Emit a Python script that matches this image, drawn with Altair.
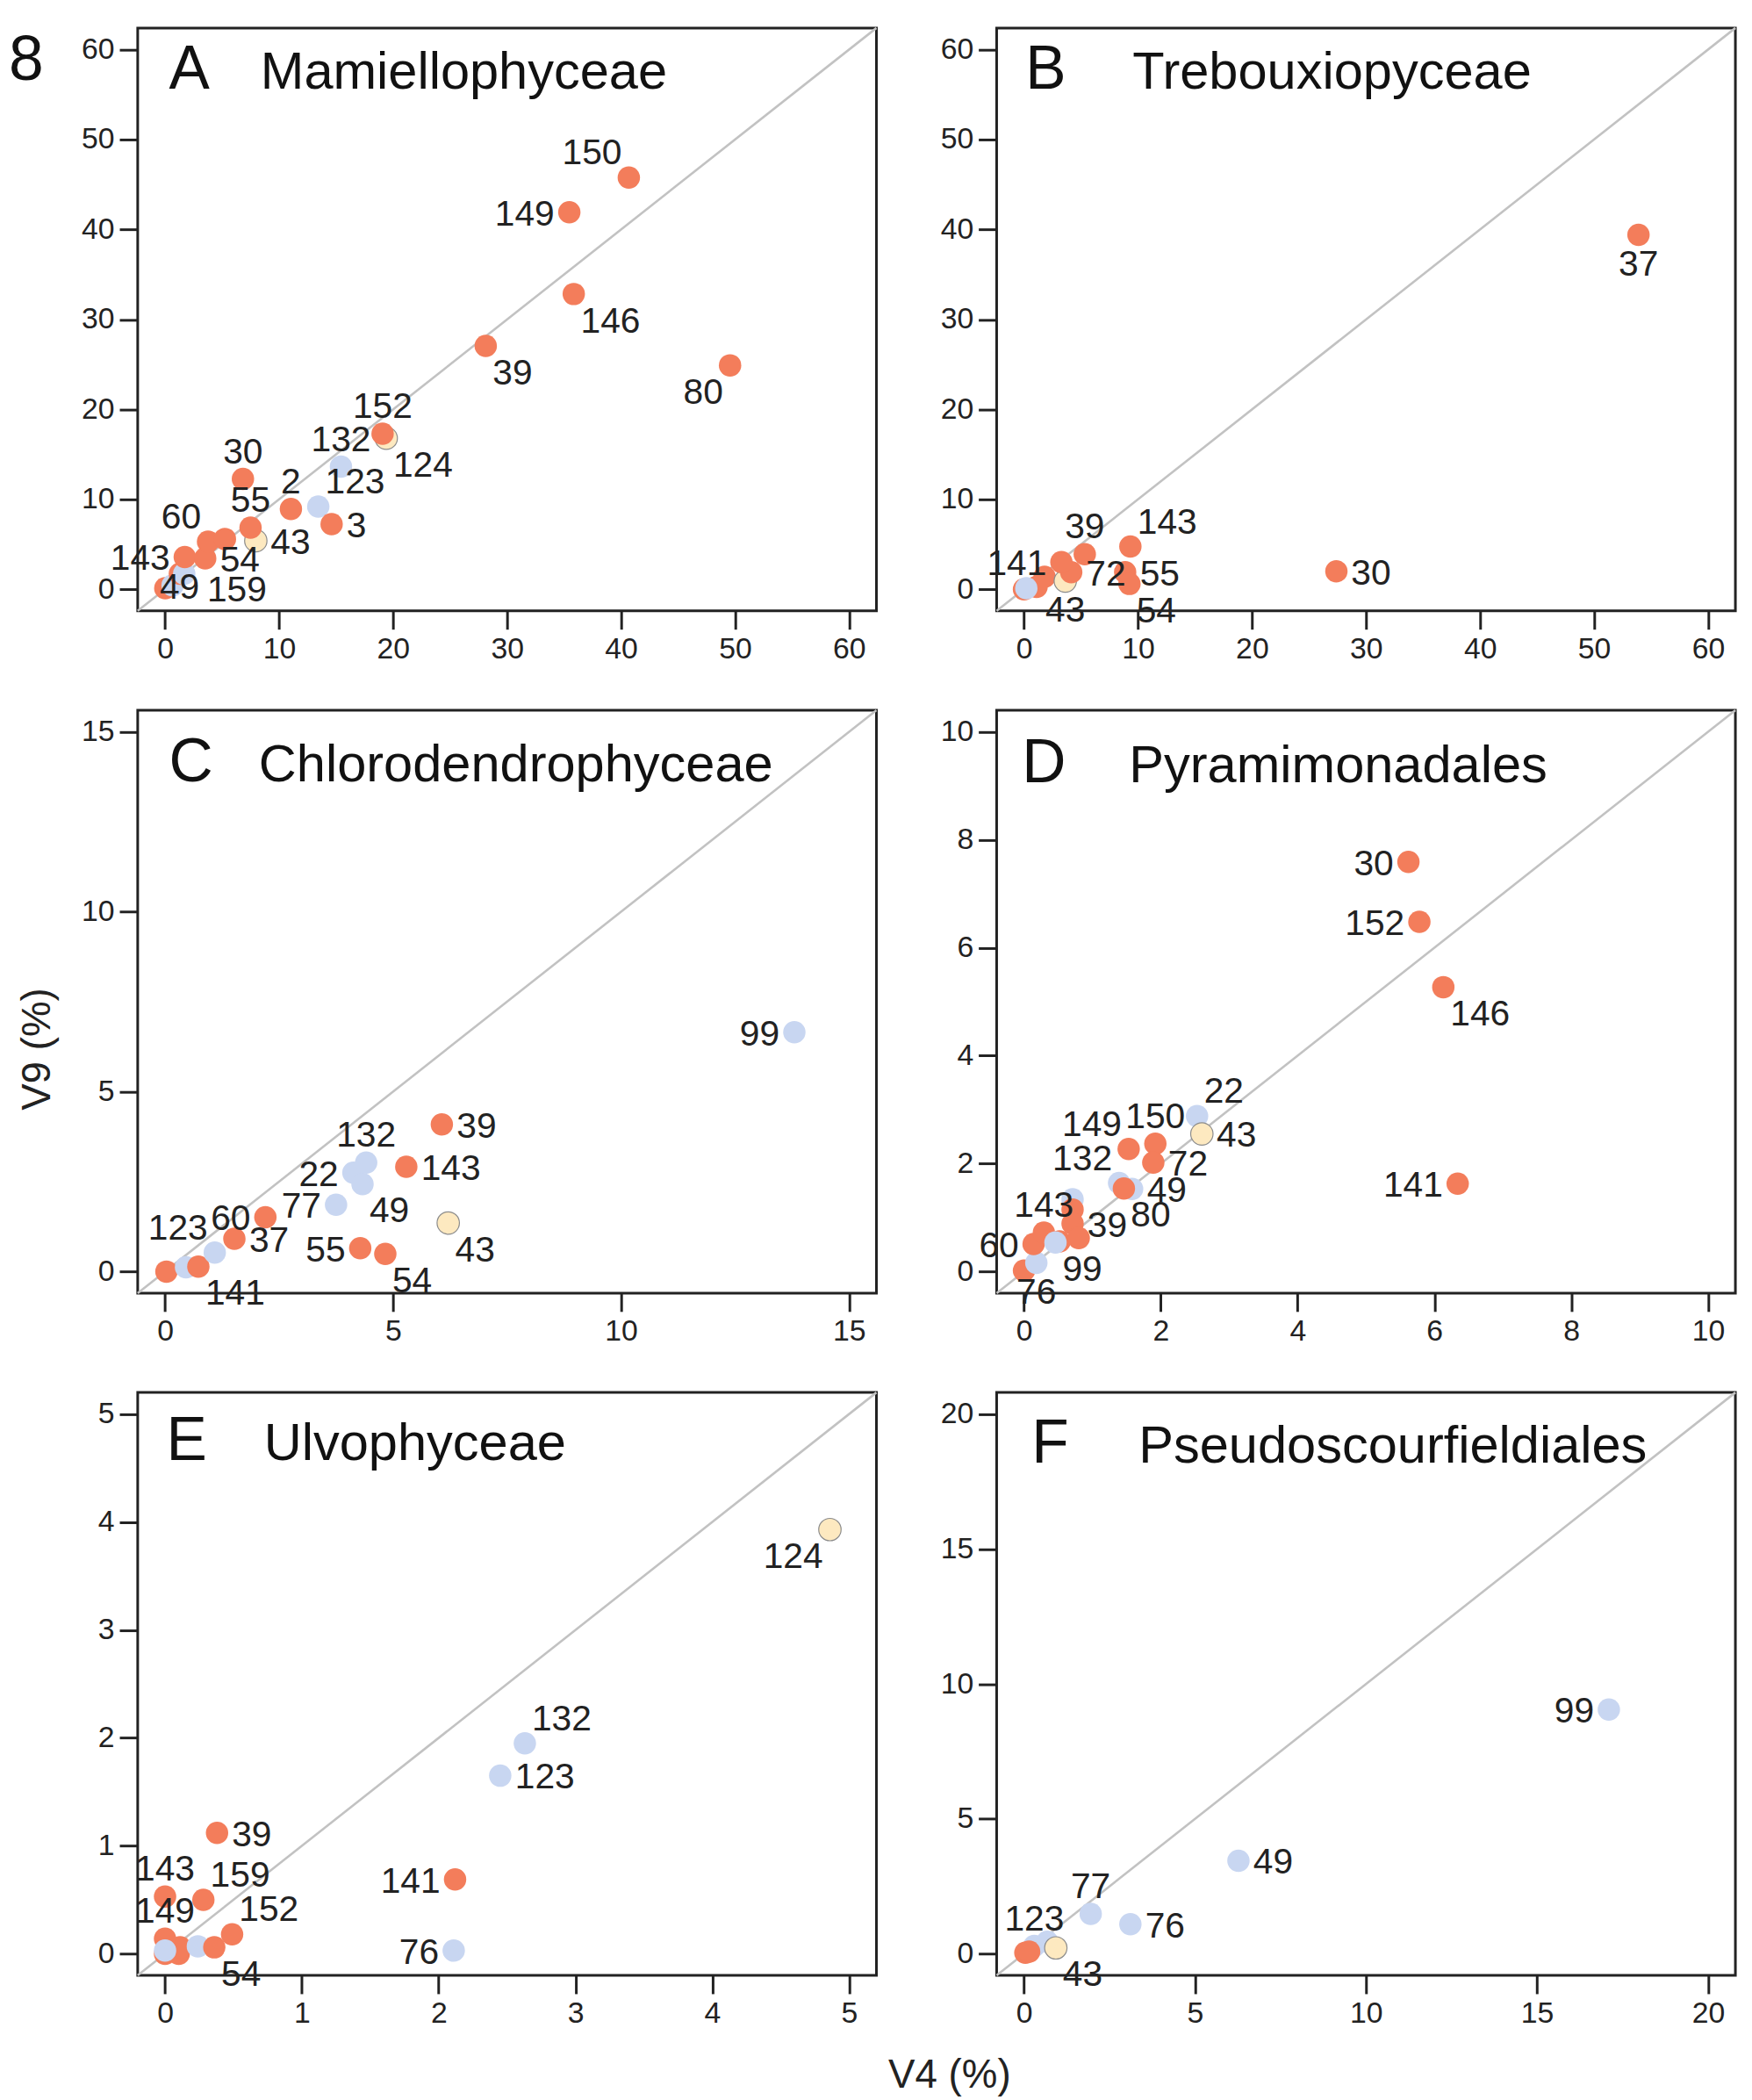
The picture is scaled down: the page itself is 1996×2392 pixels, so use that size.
import altair as alt
import pandas as pd

FONT = "Liberation Sans, Arial, Helvetica, sans-serif"
TXT = "#222222"
GROUPS = ["o", "b", "y"]
COLORS = ["#F37D5B", "#C8D6F1", "#FDE9C0"]

# ---------------- data (V4 %, V9 %) ----------------
# Panel A  Mamiellophyceae
A_x = [0.02, 0.66, 1.30, 1.68, 1.73, 3.52, 3.77, 5.25, 7.96, 7.50, 6.83, 11.04, 13.44, 14.61, 15.43, 19.40, 19.08, 28.13, 35.85, 35.46, 40.68, 49.56]
A_y = [0.12, 0.44, 1.73, 1.73, 3.58, 3.45, 5.30, 5.60, 5.40, 6.86, 12.28, 8.93, 9.19, 7.25, 13.64, 16.80, 17.30, 27.07, 32.83, 41.92, 45.78, 24.90]
A_g = ["o", "b", "o", "b", "o", "o", "o", "o", "y", "o", "o", "o", "b", "o", "b", "y", "o", "o", "o", "o", "o", "o"]
A_lab = ["159", "49", "", "", "143", "54", "60", "", "43", "55", "30", "2", "123", "3", "132", "124", "152", "39", "146", "149", "150", "80"]
A_pos = ["E2", "C", "", "", "W", "E", "NW", "", "E", "N", "N", "N", "NE", "E", "N", "SE", "N", "SE", "SE", "W", "NW", "SW"]

# Panel B  Trebouxiopyceae
B_x = [0.00, 1.10, 1.80, 0.20, 3.62, 4.14, 3.28, 5.33, 9.33, 8.87, 9.25, 27.40, 53.90]
B_y = [0.00, 0.27, 1.40, 0.12, 0.92, 1.90, 3.03, 3.91, 4.75, 1.90, 0.60, 2.00, 39.40]
B_g = ["o", "o", "o", "b", "y", "o", "o", "o", "o", "o", "o", "o", "o"]
B_lab = ["", "", "", "", "43", "72", "141", "39", "143", "55", "54", "30", "37"]
B_pos = ["", "", "", "", "S", "E", "W", "N", "NE", "E", "SE", "E", "S"]

# Panel C  Chlorodendrophyceae
C_x = [0.03, 0.46, 0.73, 1.09, 1.52, 2.20, 3.75, 4.13, 4.33, 4.41, 5.29, 6.07, 4.28, 4.83, 6.21, 13.80]
C_y = [0.00, 0.12, 0.14, 0.53, 0.91, 1.51, 1.86, 2.75, 2.43, 3.03, 2.91, 4.09, 0.65, 0.49, 1.35, 6.65]
C_g = ["o", "b", "o", "b", "o", "o", "b", "b", "b", "b", "o", "o", "o", "o", "y", "b"]
C_lab = ["", "", "141", "123", "37", "60", "77", "22", "49", "132", "143", "39", "55", "54", "43", "99"]
C_pos = ["", "", "SE", "NW", "E", "W", "W", "W", "SE", "N", "E", "E", "W", "SE", "SE", "W"]

# Panel D  Pyramimonadales
D_x = [0.00, 0.18, 0.14, 0.29, 0.52, 0.46, 0.71, 0.71, 0.71, 0.80, 1.39, 1.58, 1.46, 1.53, 1.92, 1.89, 2.53, 2.60, 6.34, 6.13, 5.78, 5.62]
D_y = [0.02, 0.16, 0.51, 0.72, 0.56, 0.54, 1.34, 1.15, 0.89, 0.62, 1.64, 1.53, 1.54, 2.27, 2.37, 2.02, 2.88, 2.55, 1.63, 5.27, 6.48, 7.59]
D_g = ["o", "b", "o", "o", "o", "b", "b", "o", "o", "o", "b", "b", "o", "o", "o", "o", "b", "y", "o", "o", "o", "o"]
D_lab = ["", "76", "60", "143", "", "99", "", "", "39", "", "132", "49", "80", "149", "150", "72", "22", "43", "141", "146", "152", "30"]
D_pos = ["", "S", "W", "N", "", "SE", "", "", "E", "", "NW", "E", "SE", "NW", "N", "E", "NE", "E", "W", "SE", "W", "W"]

# Panel E  Ulvophyceae
E_x = [0.00, 0.10, 0.11, 0.00, 0.00, 0.24, 0.36, 0.49, 0.00, 0.28, 0.38, 2.12, 2.11, 2.45, 2.63, 4.86]
E_y = [0.00, 0.00, 0.06, 0.14, 0.03, 0.07, 0.06, 0.18, 0.53, 0.50, 1.12, 0.69, 0.03, 1.65, 1.95, 3.93]
E_g = ["o", "o", "o", "o", "b", "b", "o", "o", "o", "o", "o", "o", "b", "b", "b", "y"]
E_lab = ["", "", "", "149", "", "", "54", "152", "143", "159", "39", "141", "76", "123", "132", "124"]
E_pos = ["", "", "", "N", "", "", "SE", "NE", "N", "NE", "E", "W", "W", "E", "NE", "SW"]

# Panel F  Pseudoscourfieldiales
F_x = [0.30, 0.68, 0.04, 0.15, 0.93, 1.95, 3.11, 6.27, 17.10]
F_y = [0.29, 0.45, 0.04, 0.08, 0.22, 1.48, 1.10, 3.45, 9.05]
F_g = ["b", "b", "o", "o", "y", "b", "b", "b", "b"]
F_lab = ["123", "", "", "", "43", "77", "76", "49", "99"]
F_pos = ["N", "", "", "", "SE", "N", "E", "E", "W"]

A_ticks = [0, 10, 20, 30, 40, 50, 60]
C_ticks = [0, 5, 10, 15]
D_ticks = [0, 2, 4, 6, 8, 10]
E_ticks = [0, 1, 2, 3, 4, 5]
F_ticks = [0, 5, 10, 15, 20]

W, H = 848, 669
LABEL_SIZE = 41

# label placement around a point: (align, dx, dy)
OFF = {
    "N": ("center", 0, -18),
    "S": ("center", 0, 47),
    "E": ("left", 17, 15),
    "W": ("right", -17, 15),
    "NE": ("left", 8, -15),
    "NW": ("right", -8, -15),
    "SE": ("left", 8, 44),
    "SW": ("right", -8, 44),
    "C": ("center", 8, 15),
    "E2": ("left", 48, 15),
}


def make_panel(xs, ys, gs, labs, poss, ticks, letter, name, letter_x, name_x, title_y, extra=()):
    span = ticks[-1] - ticks[0]
    lo = ticks[0] - 0.04 * span
    hi = ticks[-1] + 0.04 * span
    sc = alt.Scale(domain=[lo, hi], nice=False, zero=False)
    common = dict(values=ticks, title=None, grid=False, domain=False, ticks=True,
                  tickSize=21, tickWidth=3, tickColor=TXT, labelFontSize=34,
                  labelFont=FONT, labelColor=TXT, labelFlush=False,
                  labelOverlap=False, format="d")
    xa = alt.Axis(labelPadding=6, **common)
    ya = alt.Axis(labelPadding=6, **common)
    df = pd.DataFrame({"v4": xs, "v9": ys, "grp": gs, "lab": labs, "pos": poss,
                       "i": list(range(len(xs)))})
    diag = alt.Chart(pd.DataFrame({"v4": [lo, hi], "v9": [lo, hi]})).mark_line(
        color="#C2C2C2", strokeWidth=2.6).encode(
        x=alt.X("v4:Q", scale=sc, axis=xa), y=alt.Y("v9:Q", scale=sc, axis=ya))
    pts = alt.Chart(df).mark_circle(size=660, opacity=1).encode(
        x="v4:Q", y="v9:Q",
        color=alt.Color("grp:N", scale=alt.Scale(domain=GROUPS, range=COLORS), legend=None),
        stroke=alt.value("#8C8C8C"),
        strokeWidth=alt.condition(alt.datum.grp == "y", alt.value(1.2), alt.value(0)),
        order=alt.Order("i:Q"))
    layers = [diag, pts]
    for d, (al, dx, dy) in OFF.items():
        layers.append(
            alt.Chart(df).transform_filter(alt.datum.pos == d).mark_text(
                align=al, dx=dx, dy=dy, baseline="alphabetic", fontSize=LABEL_SIZE,
                font=FONT, color=TXT).encode(x="v4:Q", y="v9:Q", text="lab:N"))
    tdf = pd.DataFrame({"letter": [letter], "name": [name]})
    layers.append(alt.Chart(tdf).mark_text(
        align="left", baseline="alphabetic", fontSize=70, font=FONT, color="#111111").encode(
        x=alt.value(letter_x), y=alt.value(title_y), text="letter:N"))
    layers.append(alt.Chart(tdf).mark_text(
        align="left", baseline="alphabetic", fontSize=60, font=FONT, color="#111111").encode(
        x=alt.value(name_x), y=alt.value(title_y), text="name:N"))
    layers.extend(extra)
    return alt.layer(*layers).properties(width=W, height=H)


fig_df = pd.DataFrame({"t": ["8"]})
fig_num = alt.Chart(fig_df).mark_text(
    align="left", baseline="alphabetic", fontSize=72, font=FONT, color="#111111").encode(
    x=alt.value(-148), y=alt.value(60), text="t:N")

ylab_df = pd.DataFrame({"t": ["V9 (%)"]})
ylab = alt.Chart(ylab_df).mark_text(
    align="center", baseline="middle", angle=270, fontSize=46, font=FONT, color=TXT).encode(
    x=alt.value(-115), y=alt.value(389), text="t:N")

xlab_df = pd.DataFrame({"t": ["V4 (%)"]})
xlab = alt.Chart(xlab_df).mark_text(
    align="center", baseline="middle", fontSize=46, font=FONT, color=TXT).encode(
    x=alt.value(932), y=alt.value(784), text="t:N")

pA = make_panel(A_x, A_y, A_g, A_lab, A_pos, A_ticks, "A", "Mamiellophyceae", 36, 141, 70, extra=[fig_num])
pB = make_panel(B_x, B_y, B_g, B_lab, B_pos, A_ticks, "B", "Trebouxiopyceae", 33, 156, 70)
pC = make_panel(C_x, C_y, C_g, C_lab, C_pos, C_ticks, "C", "Chlorodendrophyceae", 36, 139, 82)
pD = make_panel(D_x, D_y, D_g, D_lab, D_pos, D_ticks, "D", "Pyramimonadales", 29, 152, 83)
pE = make_panel(E_x, E_y, E_g, E_lab, E_pos, E_ticks, "E", "Ulvophyceae", 33, 145, 77, extra=[xlab])
pF = make_panel(F_x, F_y, F_g, F_lab, F_pos, F_ticks, "F", "Pseudoscourfieldiales", 40, 163, 80)
pC = alt.layer(pC, ylab)

chart = alt.concat(
    pA, pB, pC, pD, pE, pF, columns=2,
    spacing=alt.RowColnumber(row=114, column=138), bounds="flush",
).properties(
    padding={"left": 0, "top": 8, "right": 4, "bottom": 4},
    background="white",
).configure_view(stroke=TXT, strokeWidth=3)

chart.save("out.html", embed_options={"renderer": "svg", "actions": False})
